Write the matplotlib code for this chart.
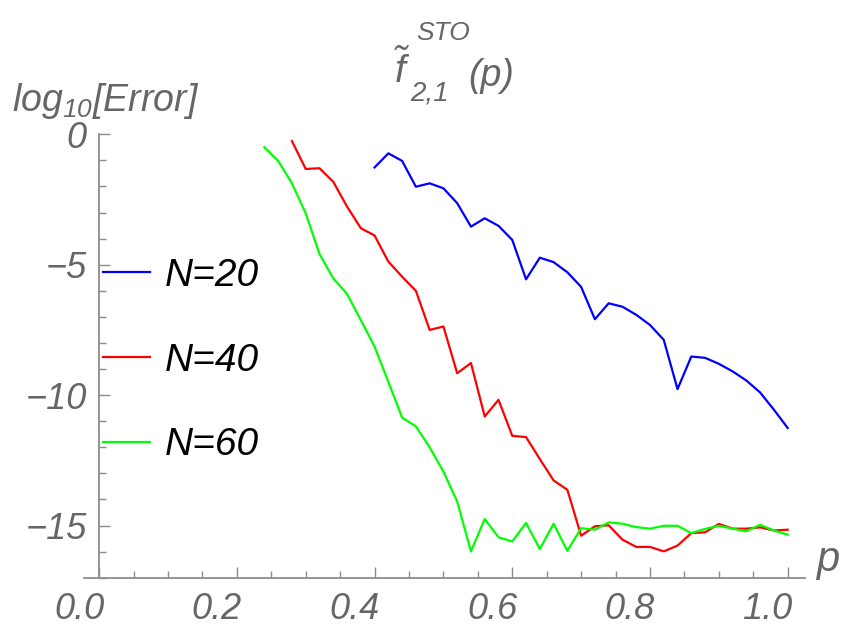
import matplotlib
matplotlib.use('Agg')
import matplotlib.pyplot as plt
from matplotlib.ticker import MultipleLocator, FormatStrFormatter
from matplotlib.transforms import ScaledTranslation

plt.rcParams['font.family'] = 'Liberation Sans'
plt.rcParams['mathtext.fontset'] = 'custom'
plt.rcParams['mathtext.it'] = 'Liberation Sans:italic'
plt.rcParams['mathtext.rm'] = 'Liberation Sans:italic'

# log10 of the error for three truncation orders N
p20 = [0.40, 0.42, 0.44, 0.46, 0.48, 0.50, 0.52, 0.54, 0.56, 0.58, 0.60,
       0.62, 0.64, 0.66, 0.68, 0.70, 0.72, 0.74, 0.76, 0.78, 0.80, 0.82,
       0.84, 0.86, 0.88, 0.90, 0.92, 0.94, 0.96, 0.98, 1.00]
err20 = [-1.27, -0.73, -1.02, -2.01, -1.88, -2.07, -2.64, -3.54, -3.22, -3.51, -4.05,
         -5.56, -4.73, -4.90, -5.29, -5.85, -7.09, -6.48, -6.61, -6.92, -7.31, -7.88,
         -9.77, -8.52, -8.57, -8.80, -9.09, -9.44, -9.90, -10.56, -11.26]

p40 = [0.28, 0.30, 0.32, 0.34, 0.36, 0.38, 0.40, 0.42, 0.44, 0.46, 0.48,
       0.50, 0.52, 0.54, 0.56, 0.58, 0.60, 0.62, 0.64, 0.66, 0.68, 0.70,
       0.72, 0.74, 0.76, 0.78, 0.80, 0.82, 0.84, 0.86, 0.88, 0.90, 0.92,
       0.94, 0.96, 0.98, 1.00]
err40 = [-0.26, -1.33, -1.30, -1.82, -2.77, -3.60, -3.88, -4.88, -5.46, -6.00, -7.50,
         -7.37, -9.16, -8.77, -10.82, -10.18, -11.56, -11.61, -12.45, -13.27, -13.63, -15.39,
         -15.03, -14.99, -15.54, -15.82, -15.82, -15.99, -15.77, -15.29, -15.26, -14.94, -15.12,
         -15.12, -15.07, -15.19, -15.16]

p60 = [0.24, 0.26, 0.28, 0.30, 0.32, 0.34, 0.36, 0.38, 0.40, 0.42, 0.44,
       0.46, 0.48, 0.50, 0.52, 0.54, 0.56, 0.58, 0.60, 0.62, 0.64, 0.66,
       0.68, 0.70, 0.72, 0.74, 0.76, 0.78, 0.80, 0.82, 0.84, 0.86, 0.88,
       0.90, 0.92, 0.94, 0.96, 0.98, 1.00]
err60 = [-0.50, -1.02, -1.88, -3.03, -4.59, -5.52, -6.12, -7.12, -8.14, -9.49, -10.86,
         -11.20, -12.00, -12.93, -14.08, -15.99, -14.75, -15.45, -15.61, -14.90, -15.90, -14.93,
         -15.97, -15.10, -15.16, -14.88, -14.93, -15.06, -15.12, -15.01, -15.01, -15.29, -15.13,
         -15.01, -15.12, -15.22, -14.97, -15.19, -15.35]

gray = '#666666'
axis_gray = '#8c8c8c'

fig = plt.figure(figsize=(8.44, 6.27), dpi=100)
ax = fig.add_axes([84 / 844, 1 - 577.7 / 627, 720.9 / 844, 443.4 / 627])

ax.plot(p20, err20, color='#0000ff', lw=1.6, label='N=20')
ax.plot(p40, err40, color='#ff0000', lw=1.6, label='N=40')
ax.plot(p60, err60, color='#00ff00', lw=1.6, label='N=60')

ax.set_xlim(-0.022, 1.025)
ax.set_ylim(-17, 0)

# y axis through x=0, x axis along the bottom
ax.spines['left'].set_position(('data', 0))
ax.spines['top'].set_visible(False)
ax.spines['right'].set_visible(False)
for s in ('left', 'bottom'):
    ax.spines[s].set_color(axis_gray)
    ax.spines[s].set_linewidth(1.3)

ax.xaxis.set_major_locator(MultipleLocator(0.2))
ax.xaxis.set_minor_locator(MultipleLocator(0.05))
ax.xaxis.set_major_formatter(FormatStrFormatter('%.1f'))
ax.yaxis.set_major_locator(MultipleLocator(5))
ax.yaxis.set_minor_locator(MultipleLocator(1))

ax.tick_params(which='both', direction='in', color=axis_gray, width=1.0)
ax.tick_params(which='major', length=8)
ax.tick_params(which='minor', length=5)
ax.tick_params(axis='x', labelsize=26, labelcolor=gray, pad=10)
ax.tick_params(axis='y', labelsize=26, labelcolor=gray, pad=9)

# x tick labels sit a little left of their ticks
shift = ScaledTranslation(-20 / 100, 0, fig.dpi_scale_trans)
for lbl in ax.get_xticklabels():
    lbl.set_fontstyle('italic')
    lbl.set_transform(lbl.get_transform() + shift)
for lbl in ax.get_yticklabels():
    lbl.set_fontstyle('italic')

# title pieces: f-tilde with STO above and 2,1 below, then (p)
fig.text(402 / 844, 1 - 70 / 627, r'$\tilde{f}$', fontsize=28, color=gray,
         ha='center', va='center')
fig.text(416 / 844, 1 - 33 / 627, 'STO', fontsize=19, fontstyle='italic',
         color=gray, ha='left', va='center')
fig.text(410 / 844, 1 - 94 / 627, '2,1', fontsize=20, fontstyle='italic',
         color=gray, ha='left', va='center')
fig.text(468 / 844, 1 - 76 / 627, '(p)', fontsize=27, fontstyle='italic',
         color=gray, ha='left', va='center')

fig.text(12 / 844, 1 - 101 / 627, r'$log_{10}[Error]$',
         fontsize=27, color=gray, ha='left', va='center')
fig.text(828 / 844, 1 - 560 / 627, 'p', fontsize=30, fontstyle='italic',
         color=gray, ha='center', va='center')

fig.legend(loc='upper left', bbox_to_anchor=(103 / 844, 1 - 258 / 627),
           frameon=False, prop={'size': 28, 'style': 'italic'},
           handlelength=1.2, handletextpad=0.4, labelspacing=1.25,
           borderpad=0, borderaxespad=0)

fig.savefig('out.png', dpi=100)
